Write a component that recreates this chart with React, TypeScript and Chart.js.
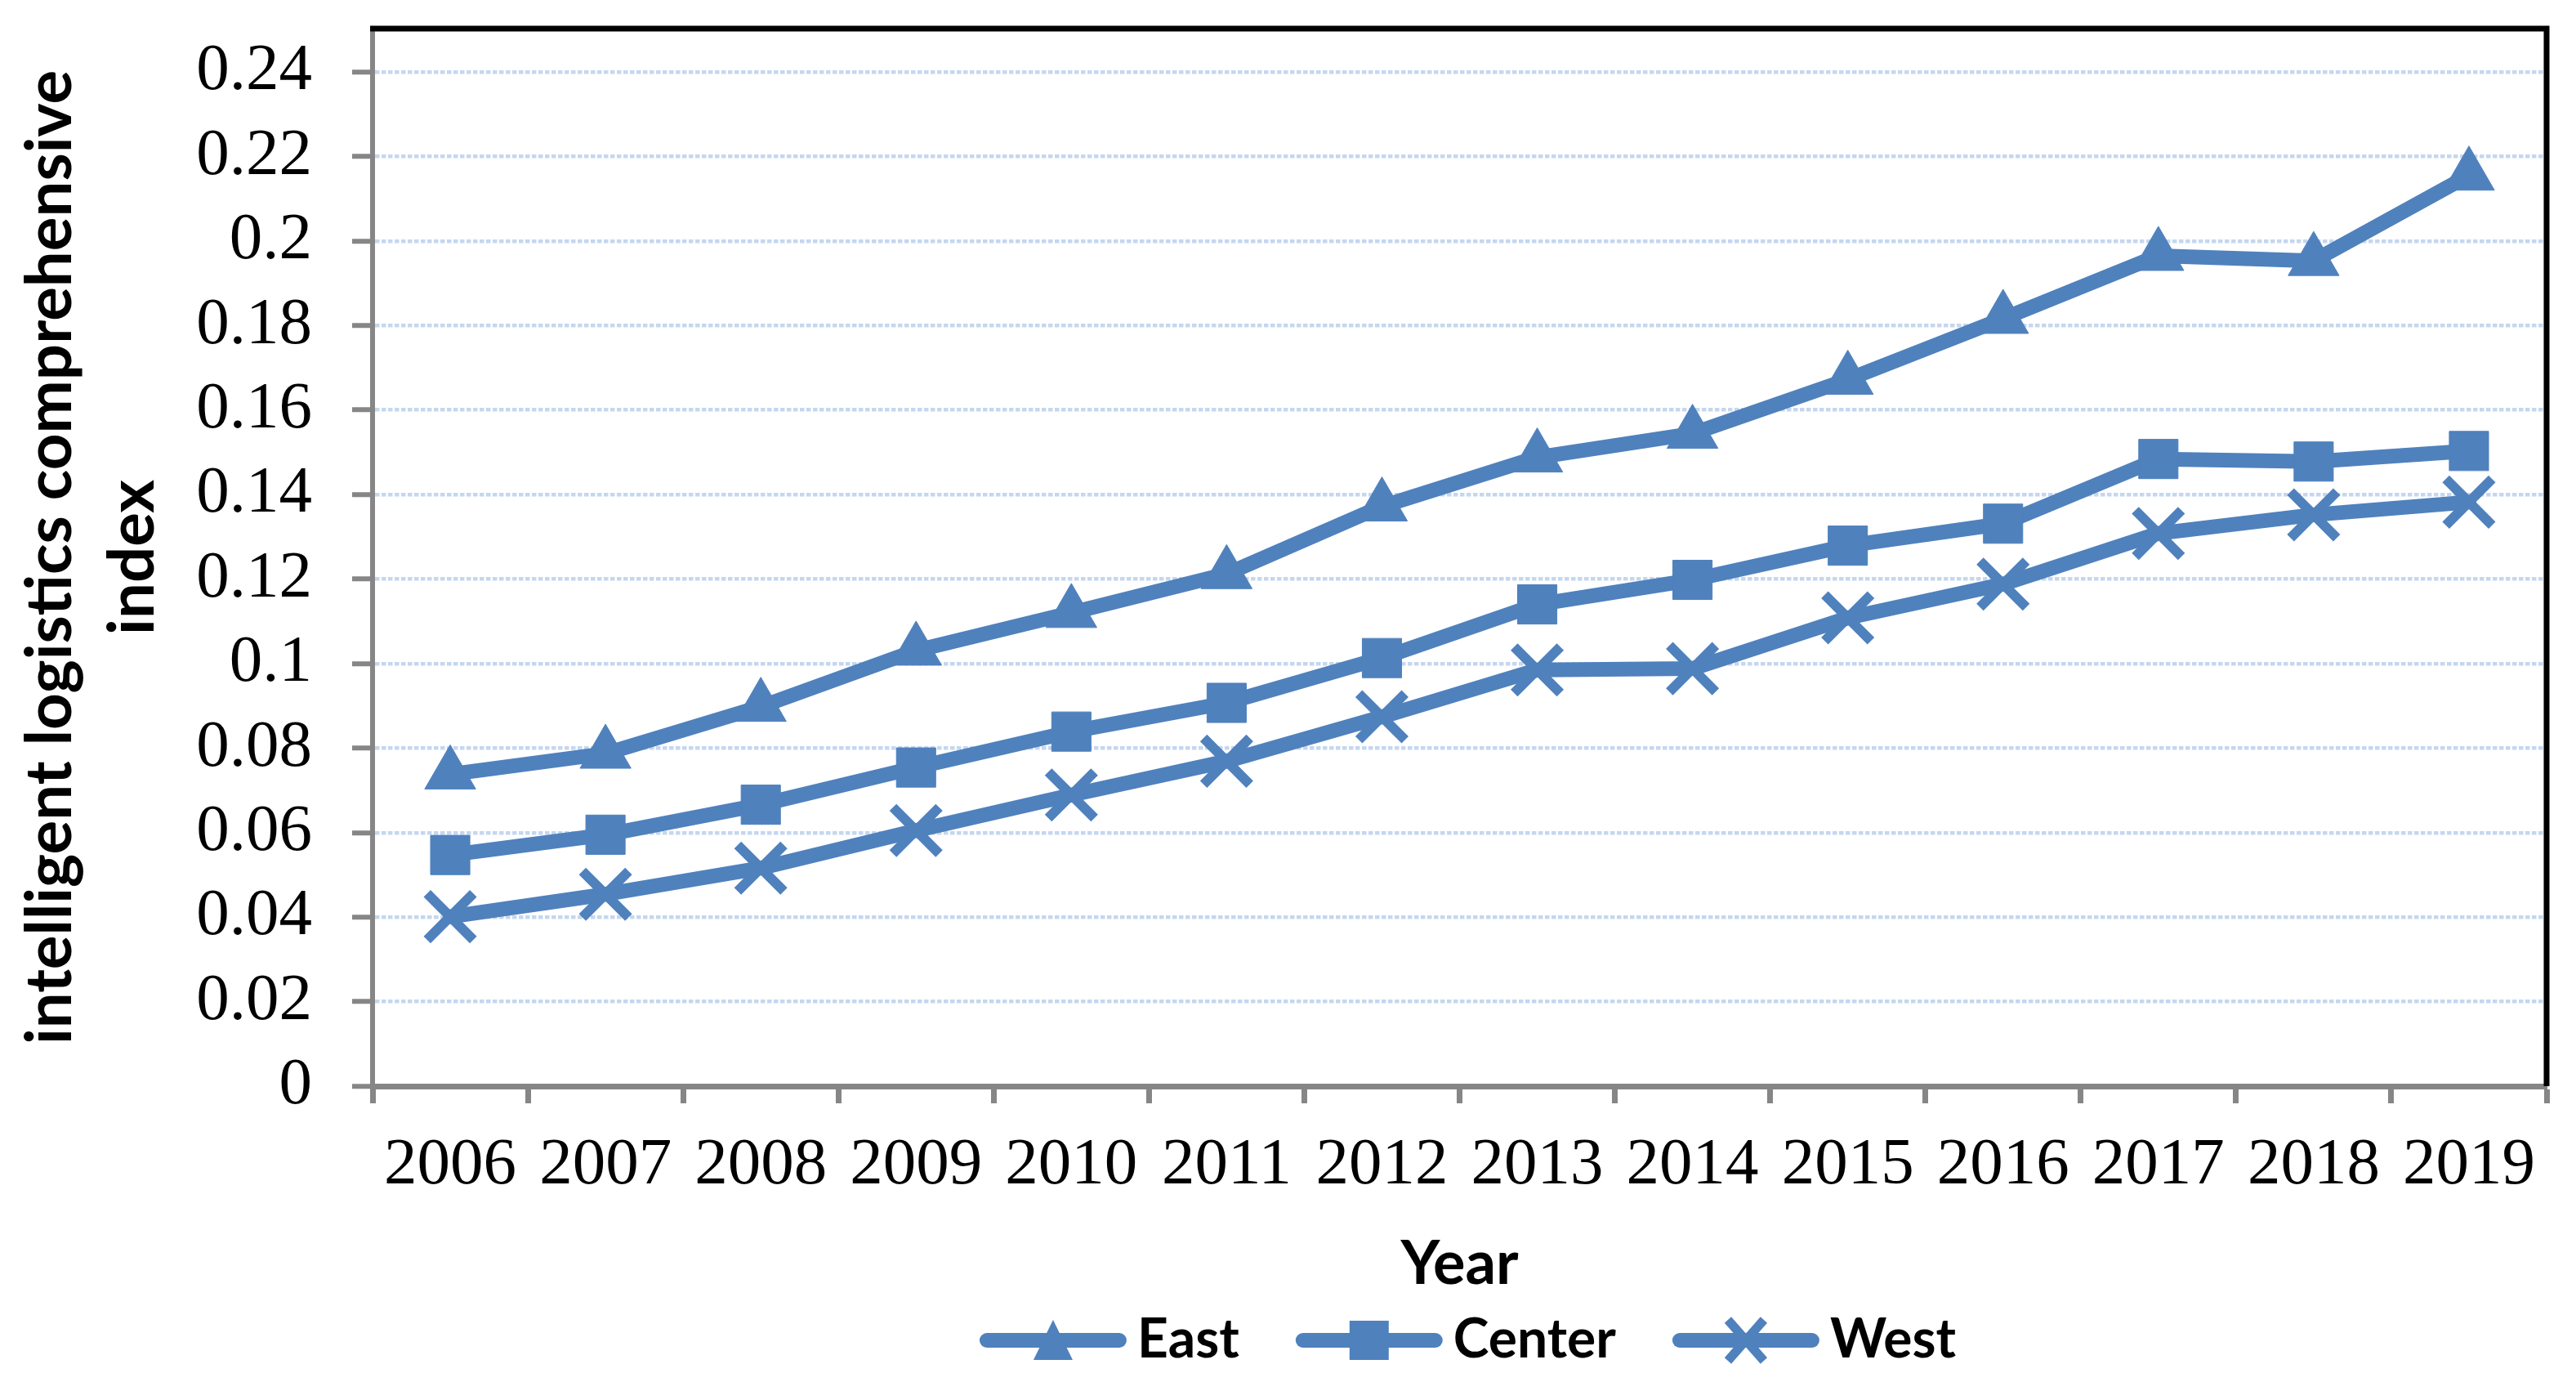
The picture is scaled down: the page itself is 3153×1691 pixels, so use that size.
import React, { useEffect, useRef } from "react";
import { Chart, registerables } from "chart.js";

Chart.register(...registerables);

const years = ["2006", "2007", "2008", "2009", "2010", "2011", "2012", "2013", "2014", "2015", "2016", "2017", "2018", "2019"];
const eastValues = [0.0738, 0.0787, 0.0898, 0.1031, 0.112, 0.1212, 0.1372, 0.1488, 0.1544, 0.1672, 0.1816, 0.1965, 0.1953, 0.2155];
const centerValues = [0.0547, 0.0595, 0.0666, 0.0754, 0.0839, 0.0907, 0.1013, 0.114, 0.1198, 0.1279, 0.1331, 0.1484, 0.1478, 0.1503];
const westValues = [0.0401, 0.0454, 0.0516, 0.0605, 0.0689, 0.0769, 0.0874, 0.0985, 0.0988, 0.1108, 0.1188, 0.1308, 0.1352, 0.1382];
const seriesNames = ["East", "Center", "West"];
const yTickValues = [0, 0.02, 0.04, 0.06, 0.08, 0.1, 0.12, 0.14, 0.16, 0.18, 0.2, 0.22, 0.24];
const yTickLabels = ["0", "0.02", "0.04", "0.06", "0.08", "0.1", "0.12", "0.14", "0.16", "0.18", "0.2", "0.22", "0.24"];
const yAxisTitle = ["intelligent logistics comprehensive", "index"];
const xAxisTitle = "Year";

const BLUE = "#4F81BD";
const AXIS_GRAY = "#868686";
const GRID_BLUE = "#C5D7EF";
const SERIF = "'Liberation Serif', 'Times New Roman', serif";
const SANS = "Lato, 'Open Sans', sans-serif";

const markerStyles = ["triangle", "rect", "crossRot"];

function drawLegendMarker(ctx: CanvasRenderingContext2D, style: string, cx: number, cy: number) {
  ctx.save();
  ctx.fillStyle = BLUE;
  ctx.strokeStyle = BLUE;
  if (style === "triangle") {
    ctx.beginPath();
    ctx.moveTo(cx, cy - 25);
    ctx.lineTo(cx + 24, cy + 24);
    ctx.lineTo(cx - 24, cy + 24);
    ctx.closePath();
    ctx.fill();
  } else if (style === "rect") {
    ctx.fillRect(cx - 24, cy - 24, 48, 48);
  } else {
    ctx.lineWidth = 11;
    ctx.lineCap = "butt";
    ctx.beginPath();
    ctx.moveTo(cx - 22, cy - 25);
    ctx.lineTo(cx + 22, cy + 25);
    ctx.moveTo(cx + 22, cy - 25);
    ctx.lineTo(cx - 22, cy + 25);
    ctx.stroke();
  }
  ctx.restore();
}

const framePlugin = {
  id: "frameAndLegend",
  afterDraw(chart: any) {
    const ctx: CanvasRenderingContext2D = chart.ctx;
    const { left, right, top, bottom } = chart.chartArea;
    ctx.save();
    ctx.strokeStyle = "#000";
    ctx.lineWidth = 7;
    ctx.lineCap = "butt";
    ctx.lineJoin = "miter";
    ctx.beginPath();
    ctx.moveTo(left - 3, top);
    ctx.lineTo(right, top);
    ctx.lineTo(right, bottom);
    ctx.stroke();

    const legend = chart.legend;
    if (legend && legend.legendHitBoxes) {
      legend.legendHitBoxes.forEach((hb: any, i: number) => {
        const cy = hb.top + hb.height / 2;
        const x0 = hb.left + 20;
        ctx.strokeStyle = BLUE;
        ctx.lineWidth = 18;
        ctx.lineCap = "round";
        ctx.beginPath();
        ctx.moveTo(x0 + 9, cy);
        ctx.lineTo(x0 + 171, cy);
        ctx.stroke();
        drawLegendMarker(ctx, markerStyles[i], x0 + 90, cy);
      });
    }
    ctx.restore();
  },
};

function makeDataset(label: string, data: number[], style: string) {
  const isCross = style === "crossRot";
  const r = style === "triangle" ? 36 : style === "rect" ? 34 : 40;
  return {
    label,
    data,
    borderColor: BLUE,
    backgroundColor: BLUE,
    borderWidth: 18,
    borderJoinStyle: "round",
    borderCapStyle: "round",
    tension: 0,
    pointStyle: style,
    pointRadius: r,
    pointHoverRadius: r,
    pointBackgroundColor: BLUE,
    pointBorderColor: BLUE,
    pointBorderWidth: isCross ? 12 : 1,
    pointHoverBorderWidth: isCross ? 12 : 1,
    clip: false,
  };
}

export default function App() {
  const canvasRef = useRef<HTMLCanvasElement | null>(null);

  useEffect(() => {
    if (!canvasRef.current) return;
    const chart = new Chart(canvasRef.current, {
      type: "line",
      data: {
        labels: years,
        datasets: [
          makeDataset(seriesNames[0], eastValues, markerStyles[0]),
          makeDataset(seriesNames[1], centerValues, markerStyles[1]),
          makeDataset(seriesNames[2], westValues, markerStyles[2]),
        ] as any,
      },
      options: {
        animation: false,
        responsive: true,
        maintainAspectRatio: false,
        devicePixelRatio: 1,
        layout: { autoPadding: false, padding: { top: 35, right: 36, bottom: 8, left: 0 } },
        events: [],
        plugins: {
          tooltip: { enabled: false },
          title: { display: false },
          legend: {
            display: true,
            position: "bottom",
            fullSize: false,
            align: "center",
            labels: {
              boxWidth: 180,
              boxHeight: 18,
              padding: 49,
              color: "#000",
              font: { family: SANS, size: 66, weight: "bold" },
              generateLabels: (c: any) =>
                c.data.datasets.map((ds: any, i: number) => ({
                  text: ds.label,
                  fillStyle: "rgba(0,0,0,0)",
                  strokeStyle: "rgba(0,0,0,0)",
                  lineWidth: 0,
                  hidden: false,
                  datasetIndex: i,
                  fontColor: "#000",
                })),
            },
          },
        },
        scales: {
          x: {
            type: "category",
            offset: true,
            grid: {
              offset: true,
              drawOnChartArea: false,
              drawTicks: true,
              tickLength: 21,
              tickColor: AXIS_GRAY,
              tickWidth: 7,
              color: AXIS_GRAY,
            },
            border: { display: true, color: AXIS_GRAY, width: 7 },
            ticks: {
              color: "#000",
              font: { family: SERIF, size: 81, lineHeight: 1.2 },
              padding: 28,
              autoSkip: false,
              maxRotation: 0,
              minRotation: 0,
            },
            title: {
              display: true,
              text: xAxisTitle,
              color: "#000",
              font: { family: SANS, size: 74, weight: "bold", lineHeight: 0.3 },
              padding: { top: 32.6, bottom: 0 },
            },
            afterFit: (scale: any) => {
              scale.paddingLeft = 0;
              scale.paddingRight = 0;
            },
          },
          y: {
            type: "linear",
            min: 0,
            max: 0.25025,
            bounds: "data",
            grid: {
              drawOnChartArea: true,
              drawTicks: true,
              color: GRID_BLUE,
              lineWidth: 4.5,
              tickLength: 25,
              tickColor: AXIS_GRAY,
              tickWidth: 6,
            },
            border: { display: true, color: AXIS_GRAY, width: 6, dash: [5.5, 2.5] },
            ticks: {
              stepSize: 0.02,
              includeBounds: false,
              color: "#000",
              font: { family: SERIF, size: 81, lineHeight: 1.2 },
              padding: 49,
              callback: (_v: any, index: number) => yTickLabels[index],
            },
            afterBuildTicks: (scale: any) => {
              scale.ticks = yTickValues.map((value) => ({ value }));
            },
            afterFit: (scale: any) => {
              scale.paddingTop = 0;
              scale.paddingBottom = 0;
            },
            title: {
              display: true,
              text: yAxisTitle,
              color: "#000",
              font: { family: SANS, size: 78, weight: "bold", lineHeight: 1.295 },
              padding: { top: 11.5, bottom: -22.25 },
            },
          },
        },
      } as any,
      plugins: [framePlugin],
    });
    return () => chart.destroy();
  }, []);

  return (
    <div style={{ position: "fixed", left: 0, top: 0, width: "100vw", height: "100vh", background: "#fff" }}>
      <canvas ref={canvasRef} />
    </div>
  );
}
